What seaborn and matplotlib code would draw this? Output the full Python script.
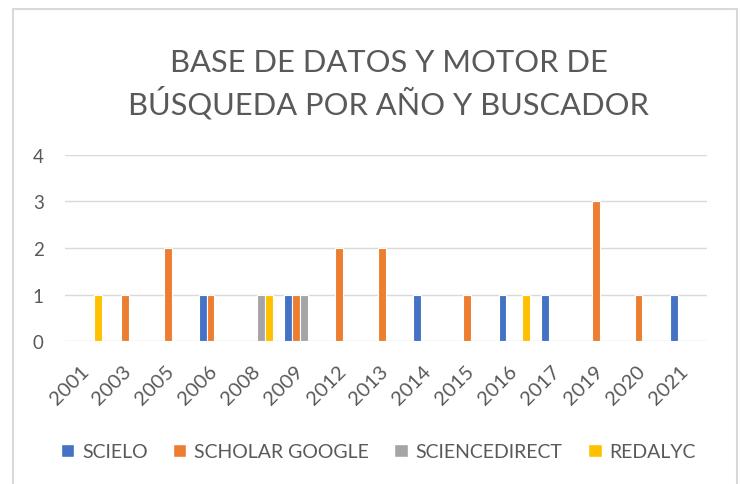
import matplotlib
matplotlib.use("Agg")
import matplotlib.pyplot as plt
import matplotlib.transforms as mtransforms
import seaborn as sns
import pandas as pd
from matplotlib.patches import Patch, Rectangle

years = ["2001", "2003", "2005", "2006", "2008", "2009", "2012", "2013",
         "2014", "2015", "2016", "2017", "2019", "2020", "2021"]
series_names = ["SCIELO", "SCHOLAR GOOGLE", "SCIENCEDIRECT", "REDALYC"]
scielo         = [0, 0, 0, 1, 0, 1, 0, 0, 1, 0, 1, 1, 0, 0, 1]
scholar_google = [0, 1, 2, 1, 0, 1, 2, 2, 0, 1, 0, 0, 3, 1, 0]
sciencedirect  = [0, 0, 0, 0, 1, 1, 0, 0, 0, 0, 0, 0, 0, 0, 0]
redalyc        = [1, 0, 0, 0, 1, 0, 0, 0, 0, 0, 1, 0, 0, 0, 0]
colors = ["#4472C4", "#ED7D31", "#A5A5A5", "#FFC000"]

rows = []
for name, vals in zip(series_names, [scielo, scholar_google, sciencedirect, redalyc]):
    for y, v in zip(years, vals):
        rows.append({"Año": y, "Buscador": name, "Valor": v})
df = pd.DataFrame(rows)

sns.set_theme(style="white")
plt.rcParams["font.family"] = ["Lato", "DejaVu Sans"]
txt = "#595959"

fig = plt.figure(figsize=(7.4, 4.85), dpi=100)
# chart border (bottom edge falls outside the image, as in the reference)
fig.patches.append(Rectangle((0.0176, -0.05), 0.978, 1.029, transform=fig.transFigure,
                             fill=False, edgecolor="#D9D9D9", linewidth=1.5))

ax = fig.add_axes([0.0873, 0.294, 0.8677, 0.385])
sns.barplot(data=df, x="Año", y="Valor", hue="Buscador", order=years,
            hue_order=series_names, palette=colors, width=0.727, saturation=1,
            edgecolor="white", linewidth=0.8, ax=ax, legend=False)
ax.set_ylim(0, 4)
ax.set_xlim(-0.5, len(years) - 0.5)
ax.set_yticks([0, 1, 2, 3, 4])
ax.yaxis.grid(True, color="#D9D9D9", linewidth=1)
ax.set_axisbelow(True)
for s in ax.spines.values():
    s.set_visible(False)
ax.set_xlabel("")
ax.set_ylabel("")
ax.tick_params(axis="both", length=0, colors=txt)
ax.tick_params(axis="y", pad=15, labelsize=13.5)
ax.tick_params(axis="x", pad=9, labelsize=14.5)
offset = mtransforms.ScaledTranslation(-0.06, -0.08, fig.dpi_scale_trans)
for lbl in ax.get_xticklabels():
    lbl.set_rotation(45)
    lbl.set_ha("right")
    lbl.set_rotation_mode("anchor")
    lbl.set_transform(lbl.get_transform() + offset)

fig.text(0.525, 0.826, "BASE DE DATOS Y MOTOR DE\nBÚSQUEDA POR AÑO Y BUSCADOR",
         ha="center", va="center", fontsize=22.2, color=txt, linespacing=1.3)

handles = [Patch(facecolor=c, label=n) for c, n in zip(colors, series_names)]
fig.legend(handles=handles, loc="center", bbox_to_anchor=(0.511, 0.066), ncol=4,
           frameon=False, fontsize=14, labelcolor=txt, handlelength=0.7,
           handleheight=0.7, handletextpad=0.4, columnspacing=1.3)

fig.savefig("out.png", dpi=100)
